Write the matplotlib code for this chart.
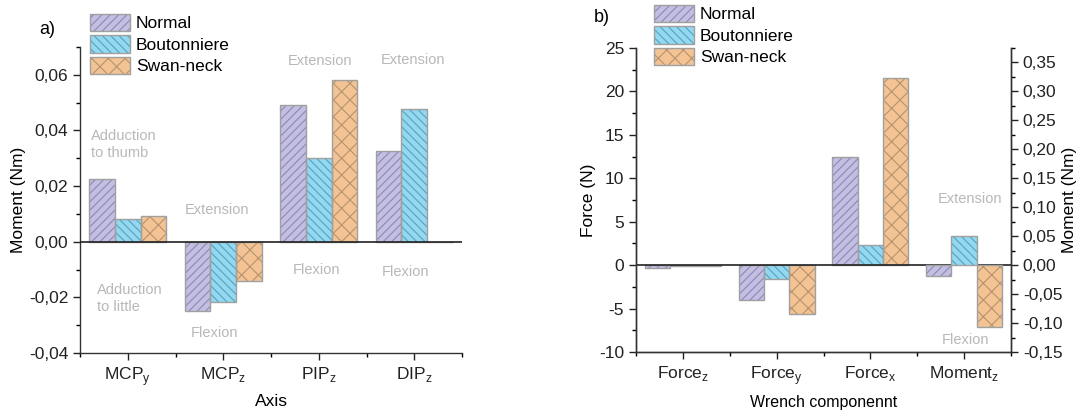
import matplotlib
matplotlib.use("Agg")
import matplotlib.pyplot as plt
from matplotlib.patches import Patch
from matplotlib.ticker import MultipleLocator, FuncFormatter
import numpy as np

plt.rcParams['font.family'] = ['Liberation Sans', 'DejaVu Sans']
plt.rcParams['mathtext.fontset'] = 'custom'
plt.rcParams['mathtext.rm'] = 'Liberation Sans'
plt.rcParams['axes.unicode_minus'] = False
plt.rcParams['hatch.linewidth'] = 0.8

# a) moments per joint axis (Nm)
joints = [r'MCP$_\mathregular{y}$', r'MCP$_\mathregular{z}$', r'PIP$_\mathregular{z}$', r'DIP$_\mathregular{z}$']
moment_normal = [0.0226, -0.0248, 0.0492, 0.0326]
moment_bout = [0.0082, -0.0215, 0.0301, 0.0478]
moment_swan = [0.0091, -0.0140, 0.0583, 0.0]

# b) wrench components: forces (N) and Moment_z (Nm)
components = [r'Force$_\mathregular{z}$', r'Force$_\mathregular{y}$', r'Force$_\mathregular{x}$', r'Moment$_\mathregular{z}$']
force_normal = [-0.3, -4.0, 12.5]
force_bout = [-0.1, -1.6, 2.3]
force_swan = [-0.1, -5.6, 21.5]
momz_normal = -0.0185
momz_bout = 0.051
momz_swan = -0.106

series = ['Normal', 'Boutonniere', 'Swan-neck']
faces = ['#c2bfe2', '#92d8f0', '#f3c393']
hatch_cols = ['#8c88b4', '#5b9fba', '#b5936f']
hatches = ['////', '\\\\\\\\', 'xx']
edge = '#a0a0a0'
grey_txt = '#b8b8b8'
W = 0.27


def comma(v, pos):
    s = f'{v:.2f}'.replace('.', ',')
    return '0,00' if s == '-0,00' else s


def draw_bars(ax, x, h, i):
    ax.bar(x, h, W, color=faces[i], edgecolor=hatch_cols[i], hatch=hatches[i], linewidth=0, zorder=2)
    ax.bar(x, h, W, fill=False, edgecolor=edge, linewidth=1, zorder=3)


def style(ax):
    ax.tick_params(direction='out', length=5, width=1, labelsize=12.5, colors='#222222')
    ax.tick_params(which='minor', direction='out', length=3, width=1)
    for s in ax.spines.values():
        s.set_linewidth(1)
        s.set_color('#333333')


def legend_handles():
    return [(Patch(facecolor=faces[i], edgecolor=hatch_cols[i], hatch=hatches[i], linewidth=0),
             Patch(fill=False, edgecolor=edge, linewidth=1)) for i in range(3)]


fig = plt.figure(figsize=(10.87, 4.13), dpi=100)

# ---------------- panel a ----------------
axa = fig.add_axes([80 / 1087, 1 - 353 / 413, 382 / 1087, 306 / 413])
x = np.arange(1, len(joints) + 1)
for i, vals in enumerate([moment_normal, moment_bout, moment_swan]):
    draw_bars(axa, x + (i - 1) * W, vals, i)
axa.axhline(0, color='#222222', lw=1.2, zorder=4)
axa.set_xlim(0.5, 4.5)
axa.set_ylim(-0.04, 0.07)
axa.set_xticks(x)
axa.set_xticklabels(joints)
axa.xaxis.set_minor_locator(MultipleLocator(1, offset=0.5))
axa.yaxis.set_major_locator(MultipleLocator(0.02))
axa.yaxis.set_minor_locator(MultipleLocator(0.01))
axa.yaxis.set_major_formatter(FuncFormatter(comma))
axa.spines['top'].set_visible(False)
axa.spines['right'].set_visible(False)
style(axa)
axa.set_ylabel('Moment (Nm)', fontsize=12.5)
axa.yaxis.set_label_coords(-0.141, 0.5)
axa.set_xlabel('Axis', fontsize=12.5)
axa.xaxis.set_label_coords(0.5, -0.135)

notes_a = [(0.62, 0.0349, 'Adduction\nto thumb'), (1.6, 0.0115, 'Extension'),
           (0.68, -0.0205, 'Adduction\nto little'), (1.66, -0.0327, 'Flexion'),
           (2.68, 0.0651, 'Extension'), (2.73, -0.0101, 'Flexion'),
           (3.65, 0.0655, 'Extension'), (3.66, -0.0108, 'Flexion')]
for nx, ny, t in notes_a:
    axa.text(nx, ny, t, color=grey_txt, fontsize=10.5, ha='left', va='center', linespacing=1.25)

fig.text(47 / 1087, 1 - 30 / 413, 'a)', fontsize=13, ha='center', va='center')
fig.legend(legend_handles(), series, loc='upper left', bbox_to_anchor=(90 / 1087, 1 - 14 / 413),
           frameon=False, fontsize=12.5, handlelength=2.3, handleheight=1.15, labelspacing=0.22,
           handletextpad=0.35, borderpad=0, borderaxespad=0)

# ---------------- panel b ----------------
axb = fig.add_axes([636 / 1087, 1 - 352 / 413, 375 / 1087, 304 / 413])
xb = np.arange(1, len(components) + 1)
for i, vals in enumerate([force_normal, force_bout, force_swan]):
    draw_bars(axb, xb[:3] + (i - 1) * W, vals, i)
axb.set_xlim(0.5, 4.5)
axb.set_ylim(-10, 25)
axb.axhline(0, color='#222222', lw=1.2, zorder=4)
axb.set_xticks(xb)
axb.set_xticklabels(components)
axb.xaxis.set_minor_locator(MultipleLocator(1, offset=0.5))
axb.yaxis.set_major_locator(MultipleLocator(5))
axb.yaxis.set_minor_locator(MultipleLocator(2.5))
axb.spines['top'].set_visible(False)
style(axb)
axb.set_ylabel('Force (N)', fontsize=12.5)
axb.yaxis.set_label_coords(-0.107, 0.5)
axb.set_xlabel('Wrench componennt', fontsize=11.5)
axb.xaxis.set_label_coords(0.5, -0.14)

ax2 = axb.twinx()
for i, v in enumerate([momz_normal, momz_bout, momz_swan]):
    draw_bars(ax2, xb[3] + (i - 1) * W, [v], i)
ax2.set_ylim(-0.15, 0.375)
ax2.yaxis.set_major_locator(MultipleLocator(0.05))
ax2.yaxis.set_minor_locator(MultipleLocator(0.025))
ax2.yaxis.set_major_formatter(FuncFormatter(comma))
ax2.spines['top'].set_visible(False)
style(ax2)
ax2.set_ylabel('Moment (Nm)', fontsize=12.5)
ax2.yaxis.set_label_coords(1.136, 0.5)

axb.text(3.72, 7.6, 'Extension', color=grey_txt, fontsize=10.5, ha='left', va='center')
axb.text(3.76, -8.6, 'Flexion', color=grey_txt, fontsize=10.5, ha='left', va='center')

fig.text(602 / 1087, 1 - 17 / 413, 'b)', fontsize=13, ha='center', va='center')
fig.legend(legend_handles(), series, loc='upper left', bbox_to_anchor=(654 / 1087, 1 - 5 / 413),
           frameon=False, fontsize=12.5, handlelength=2.3, handleheight=1.15, labelspacing=0.22,
           handletextpad=0.35, borderpad=0, borderaxespad=0)

fig.savefig('out.png', dpi=100)
